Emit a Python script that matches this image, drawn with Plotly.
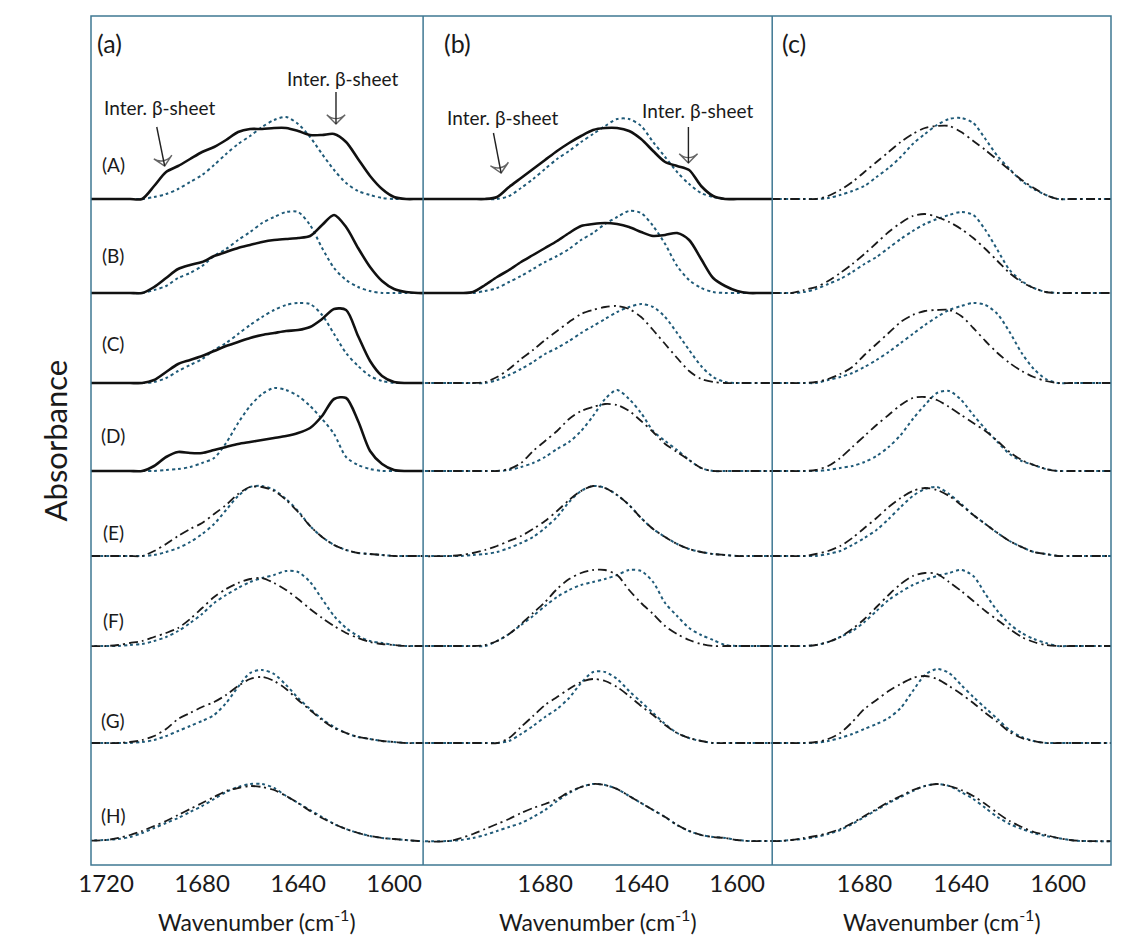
import plotly.graph_objects as go
from plotly.subplots import make_subplots

# Wavenumber grid (cm-1) on which the absorbance values are read
WAVENUMBERS = list(range(1720, 1589, -5))  # 1720 ... 1590
ROWS = ["A", "B", "C", "D", "E", "F", "G", "H"]
# vertical stacking offsets of each spectrum (arbitrary absorbance units)
OFFSETS = [666, 572, 482, 394, 309, 219, 122, 24]
ROW_LABEL_Y = [701, 610, 522, 430, 333, 245, 145, 50]
PANEL_TITLES = ["(a)", "(b)", "(c)"]
SOLID_ROWS = {"a": ["A", "B", "C", "D"], "b": ["A", "B"], "c": []}
TICKS = {"a": [1720, 1680, 1640, 1600], "b": [1680, 1640, 1600], "c": [1680, 1640, 1600]}
X_RANGES = {"a": [1726.3, 1587.9], "b": [1730.8, 1585.4], "c": [1718.1, 1578.1]}

# ---------- panel (a) ----------
a_sample = {
    "A": [0,0,0,0,13,27,33,40,47,52,59,67,70,70,71,71,68,64,64,65,57,40,23,10,2,0,0],
    "B": [0,0,0,0,6,15,24,28,31,37,41,45,48,51,53,54,55,57,68,78,66,45,26,12,4,1,0],
    "C": [0,0,0,0,3,11,19,23,27,32,37,41,45,48,50,52,53,56,64,74,73,47,22,7,1,0,0],
    "D": [0,0,0,0,5,14,19,18,18,21,24,27,29,31,33,35,38,43,55,72,73,50,20,7,1,0,0],
    "E": [0,0,0,0,5,12,20,27,33,42,51,62,69,69,65,56,44,30,19,11,6,3,2,1,0,0,0],
    "F": [0,1,3,5,9,13,18,27,38,49,57,63,67,68,63,56,47,37,28,20,13,8,4,2,1,0,0],
    "G": [0,0,1,3,7,14,24,30,36,41,48,57,64,66,62,54,43,33,23,15,10,6,4,2,1,0,0],
    "H": [1,3,6,10,15,20,26,32,38,44,50,53,55,54,51,45,38,30,23,17,12,8,5,3,2,1,0],
}
a_native = {
    "A": [0,0,0,0,2,5,10,17,24,34,45,55,63,72,79,82,75,62,45,29,16,8,4,1,0,0,0],
    "B": [0,0,0,0,3,7,15,20,27,37,44,53,61,70,76,81,81,68,45,25,13,6,2,0,0,0,0],
    "C": [0,0,0,0,1,5,12,18,24,33,40,49,58,66,73,78,80,79,68,49,30,17,7,2,0,0,0],
    "D": [0,0,0,0,0,1,2,4,8,13,28,48,65,77,83,81,75,65,52,37,14,6,2,0,0,0,0],
    "E": [0,0,0,0,1,4,8,14,22,32,46,60,69,70,66,57,45,30,19,11,6,3,2,1,0,0,0],
    "F": [0,0,1,2,5,9,15,23,32,43,51,58,64,68,71,75,74,64,47,30,18,10,5,3,1,0,0],
    "G": [0,0,0,1,3,7,12,17,22,28,40,56,70,73,69,58,45,34,24,16,10,6,4,2,1,0,0],
    "H": [1,2,4,8,13,18,23,29,35,42,49,54,57,57,53,45,38,31,24,17,12,8,5,3,2,1,0],
}
# ---------- panel (b) ----------
b_sample = {
    "A": [0,0,0,0,2,12,21,30,39,48,56,63,69,71,71,68,60,48,37,33,29,13,3,0,0,0,0],
    "B": [0,0,1,8,16,23,31,38,45,52,60,67,69,70,69,66,61,57,58,60,53,34,15,7,2,0,0],
    "C": [0,0,0,1,6,14,24,33,43,52,61,69,73,76,77,74,66,53,39,25,12,4,1,0,0,0,0],
    "D": [0,0,0,0,0,2,8,20,30,40,52,60,64,67,66,60,50,39,27,19,11,3,0,0,0,0,0],
    "E": [0,1,3,6,10,15,20,27,35,45,56,65,70,68,61,51,38,27,19,12,7,4,2,1,0,0,0],
    "F": [0,0,0,1,5,12,22,33,44,57,67,73,76,76,71,56,43,32,20,12,6,2,0,0,0,0,0],
    "G": [0,0,0,0,0,5,16,27,38,46,54,61,64,62,56,47,37,28,18,10,5,2,0,0,0,0,0],
    "H": [0,3,7,12,17,22,28,33,37,42,49,54,57,56,52,45,38,31,24,16,10,6,4,3,1,0,0],
}
b_native = {
    "A": [0,0,0,0,0,3,11,20,30,40,48,57,65,73,80,80,73,57,42,27,15,6,2,0,0,0,0],
    "B": [0,0,0,2,5,11,17,24,31,37,44,53,60,69,76,82,80,67,49,27,13,5,1,0,0,0,0],
    "C": [0,0,0,0,3,8,14,21,29,35,42,50,57,64,71,76,79,76,66,50,33,17,6,1,0,0,0],
    "D": [0,0,0,0,0,1,4,8,14,22,29,40,55,72,81,72,58,40,30,21,11,3,0,0,0,0,0],
    "E": [0,0,1,2,4,8,13,19,28,39,54,65,70,68,61,51,38,27,19,12,7,4,2,1,0,0,0],
    "F": [0,0,0,0,5,12,21,30,40,49,56,61,64,67,71,76,75,64,43,30,18,11,6,1,0,0,0],
    "G": [0,0,0,0,0,2,9,17,26,34,45,60,71,71,64,52,41,30,19,10,5,2,0,0,0,0,0],
    "H": [0,1,3,6,10,14,18,24,31,40,48,54,57,56,52,45,38,31,24,16,10,6,4,3,1,0,0],
}
# ---------- panel (c) ----------
c_sample = {
    "A": [0,0,0,0,0,3,9,17,27,37,47,57,65,71,73,73,67,58,49,39,29,19,11,4,0,0,0],
    "B": [0,0,0,3,6,12,20,29,39,50,61,70,77,79,76,71,64,55,44,32,20,11,5,1,0,0,0],
    "C": [0,0,0,0,1,4,9,16,28,39,50,61,68,72,73,73,67,55,42,30,20,12,6,2,0,0,0],
    "D": [0,0,0,0,1,5,13,24,35,46,56,66,73,74,71,64,56,48,40,30,19,11,6,2,0,0,0],
    "E": [0,0,0,0,2,5,10,18,28,38,49,58,65,68,66,60,51,41,32,23,15,9,4,2,0,0,0],
    "F": [0,0,0,0,1,4,9,17,27,39,51,62,70,73,72,64,55,45,35,26,17,9,4,1,0,0,0],
    "G": [0,0,0,0,1,4,10,21,34,43,52,59,65,67,64,57,49,40,30,21,11,5,2,0,0,0,0],
    "H": [0,0,1,3,5,8,12,18,25,32,39,45,51,55,57,55,51,45,37,28,20,14,9,6,3,1,0],
}
c_native = {
    "A": [0,0,0,0,0,1,4,8,13,22,31,42,55,65,74,80,81,76,60,43,30,18,10,4,0,0,0],
    "B": [0,0,0,1,4,9,14,21,29,36,45,54,62,69,74,78,81,78,63,43,23,12,5,1,0,0,0],
    "C": [0,0,0,0,0,3,6,10,16,23,31,40,49,58,66,73,77,80,78,69,51,30,14,4,0,0,0],
    "D": [0,0,0,0,0,1,3,5,9,15,24,36,52,66,78,80,71,56,42,29,17,10,6,2,0,0,0],
    "E": [0,0,0,0,0,2,5,11,18,26,37,49,60,67,69,62,52,41,32,23,15,9,4,2,0,0,0],
    "F": [0,0,0,0,1,4,9,15,24,35,46,54,61,66,70,73,76,70,52,35,22,13,7,3,0,0,0],
    "G": [0,0,0,0,0,2,5,9,14,19,25,35,52,68,74,70,58,46,35,24,13,6,2,0,0,0,0],
    "H": [0,0,1,2,4,7,11,17,24,31,38,44,50,55,57,55,49,42,33,24,17,12,8,5,3,1,0],
}

PANEL_DATA = {"a": (a_sample, a_native), "b": (b_sample, b_native), "c": (c_sample, c_native)}

# "Inter. beta-sheet" markers: panel, label (wavenumber, y), arrow tail, arrow tip
BETA_MARKERS = [
    (1, 1697.9, 758, 1698.9, 738, 1695.6, 699),
    (1, 1621.3, 787, 1624.2, 773, 1624.2, 741),
    (2, 1697.7, 748, 1701.5, 732, 1698.3, 692),
    (2, 1616.7, 755, 1620.3, 738, 1620.3, 702),
]

FONT = "Lato, 'Open Sans', sans-serif"
TEXT = "#1a1a1a"
FRAME = "#3f7893"
DOT_COLOR = "#1f5a78"

widths = [332, 349, 338.7]
fig = make_subplots(rows=1, cols=3, shared_yaxes=True, horizontal_spacing=0,
                    column_widths=widths)

x_full = [1750] + WAVENUMBERS + [1560]

for ci, key in enumerate(["a", "b", "c"]):
    sample, native = PANEL_DATA[key]
    for ri, row in enumerate(ROWS):
        off = OFFSETS[ri]
        y_nat = [off + v for v in [0] + native[row] + [0]]
        fig.add_trace(go.Scatter(x=x_full, y=y_nat, mode="lines",
                                 line=dict(color=DOT_COLOR, width=2, dash="dot",
                                           shape="spline", smoothing=0.8),
                                 showlegend=False, hoverinfo="skip"),
                      row=1, col=ci + 1)
        y_s = [off + v for v in [0] + sample[row] + [0]]
        if row in SOLID_ROWS[key]:
            ln = dict(color="#111111", width=2.6, shape="spline", smoothing=0.8)
        else:
            ln = dict(color="#1a1a1a", width=1.8, dash="9px,4px,2px,4px",
                      shape="spline", smoothing=0.8)
        fig.add_trace(go.Scatter(x=x_full, y=y_s, mode="lines", line=ln,
                                 showlegend=False, hoverinfo="skip"),
                      row=1, col=ci + 1)

# arrows (line + open arrowhead marker oriented along the segment)
for col, tx, ty, ax0, ay0, x1, y1 in BETA_MARKERS:
    fig.add_trace(go.Scatter(x=[ax0, x1], y=[ay0, y1], mode="lines+markers",
                             line=dict(color="#222222", width=1.4),
                             marker=dict(symbol="arrow-wide-open", size=[0, 13],
                                         angleref="previous",
                                         color="#222222",
                                         line=dict(color="#222222", width=1.4)),
                             showlegend=False, hoverinfo="skip"),
                  row=1, col=col)

for ci, key in enumerate(["a", "b", "c"]):
    fig.update_xaxes(range=X_RANGES[key], tickvals=TICKS[key],
                     ticktext=[str(t) for t in TICKS[key]],
                     showgrid=False, zeroline=False, showline=False, ticks="",
                     tickfont=dict(family=FONT, size=24, color=TEXT),
                     ticklabelstandoff=2,
                     row=1, col=ci + 1)
fig.update_yaxes(range=[0, 849], showticklabels=False, showgrid=False,
                 zeroline=False, showline=False, ticks="")

annotations = []
# row labels in panel (a)
for ri, row in enumerate(ROWS):
    annotations.append(dict(x=1717, y=ROW_LABEL_Y[ri], xref="x", yref="y",
                            text=f"({row})", showarrow=False,
                            font=dict(family=FONT, size=19, color=TEXT)))
# panel labels
for xp, t in zip([0.004, 0.344, 0.675], PANEL_TITLES):
    annotations.append(dict(x=xp, y=822, xref="paper", yref="y", text=t,
                            xanchor="left", showarrow=False,
                            font=dict(family=FONT, size=25, color=TEXT)))
# x axis titles
for ax_name in ["x", "x2", "x3"]:
    annotations.append(dict(x=0.5, y=-0.086, xref=f"{ax_name} domain", yref="paper",
                            yanchor="bottom",
                            text="Wavenumber (cm<sup>-1</sup>)", showarrow=False,
                            font=dict(family=FONT, size=23, color=TEXT)))
# y title
annotations.append(dict(x=-0.056, y=0.50, xref="paper", yref="paper",
                        text="Absorbance", textangle=-90, showarrow=False,
                        font=dict(family=FONT, size=31, color=TEXT)))
# beta-sheet labels
for col, tx, ty, ax0, ay0, x1, y1 in BETA_MARKERS:
    xr = "x" if col == 1 else f"x{col}"
    yr = "y" if col == 1 else f"y{col}"
    annotations.append(dict(x=tx, y=ty, xref=xr, yref=yr, text="Inter. β-sheet",
                            showarrow=False,
                            font=dict(family=FONT, size=19, color=TEXT)))

shapes = [
    dict(type="rect", xref="paper", yref="paper", x0=0, y0=0, x1=1, y1=1,
         line=dict(color=FRAME, width=1.5)),
]
cum = 0
for w in widths[:-1]:
    cum += w
    shapes.append(dict(type="line", xref="paper", yref="paper",
                       x0=cum / sum(widths), x1=cum / sum(widths), y0=0, y1=1,
                       line=dict(color=FRAME, width=1.5)))

fig.update_layout(width=1138, height=938,
                  margin=dict(l=91, r=27, t=16, b=73),
                  paper_bgcolor="white", plot_bgcolor="white",
                  annotations=annotations, shapes=shapes,
                  font=dict(family=FONT, color=TEXT))

fig.write_html("out.html")
